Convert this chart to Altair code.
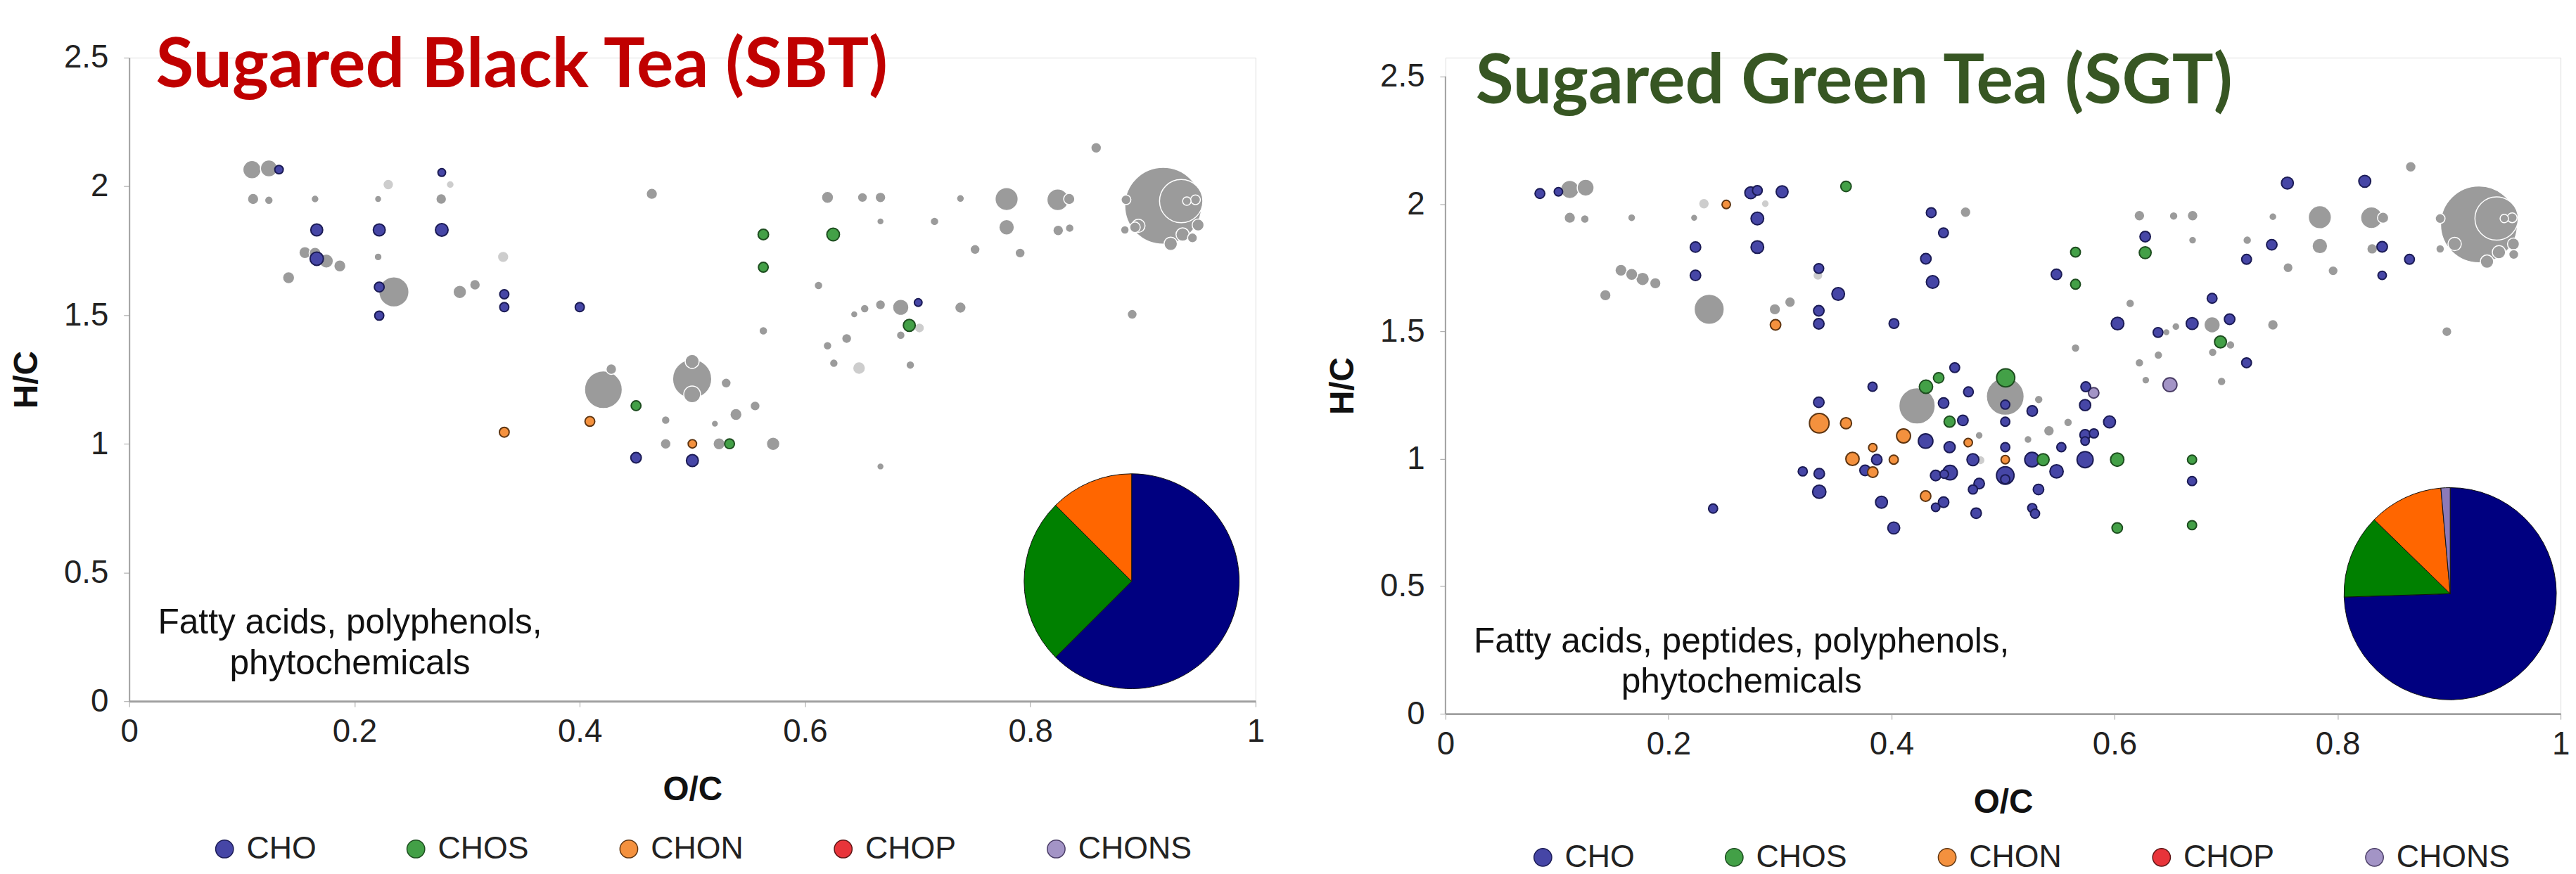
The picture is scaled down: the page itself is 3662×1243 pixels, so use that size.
import altair as alt
import pandas as pd

CLASSES = ["CHO", "CHOS", "CHON", "CHOP", "CHONS"]
FILL = ["#4646A6", "#43A047", "#F4913E", "#E8343A", "#A394C6"]
EDGE = ["#1B1B55", "#1D4D1F", "#5E3511", "#5C1515", "#4A3D66"]
PIE_COLORS = ["#000080", "#008000", "#FF6600", "#E8343A", "#8C7AB8"]

# ---------------- Sugared Black Tea (SBT) ----------------
# (O/C, H/C, relative abundance)
SBT_GRAY = [
    (0.109, 2.065, 5.6), (0.124, 2.07, 4.8), (0.110, 1.951, 2.1), (0.124, 1.946, 1.2),
    (0.165, 1.951, 1.0), (0.156, 1.743, 2.4), (0.165, 1.74, 2.4), (0.175, 1.71, 3.3),
    (0.187, 1.691, 2.4), (0.1415, 1.645, 2.4), (0.221, 1.951, 0.83), (0.221, 1.726, 1.0),
    (0.235, 1.590, 15.3), (0.277, 1.951, 1.86), (0.2935, 1.590, 3.0), (0.307, 1.618, 1.86),
    (0.464, 1.971, 2.1), (0.620, 1.957, 2.4), (0.651, 1.957, 1.62), (0.667, 1.957, 1.86),
    (0.667, 1.864, 0.83), (0.612, 1.615, 1.2), (0.563, 1.439, 1.2), (0.653, 1.525, 1.2),
    (0.6437, 1.503, 0.83), (0.667, 1.54, 1.62), (0.637, 1.409, 1.62), (0.620, 1.381, 1.2),
    (0.6256, 1.313, 1.2), (0.421, 1.210, 24.1), (0.428, 1.29, 1.86), (0.4998, 1.252, 25.9),
    (0.4998, 1.320, 3.3), (0.4998, 1.192, 4.8), (0.530, 1.236, 1.62), (0.4763, 1.092, 1.2),
    (0.520, 1.078, 0.83), (0.5387, 1.114, 2.4), (0.5557, 1.147, 1.62), (0.4763, 1.0, 1.86),
    (0.5237, 1.0, 2.4), (0.5717, 1.0, 3.0), (0.667, 0.912, 0.83), (0.8585, 2.150, 1.86),
    (0.738, 1.953, 1.0), (0.779, 1.951, 9.0), (0.8244, 1.948, 7.9), (0.8346, 1.951, 2.1),
    (0.715, 1.864, 1.2), (0.779, 1.841, 4.0), (0.8248, 1.829, 1.86), (0.835, 1.838, 1.2),
    (0.751, 1.755, 1.62), (0.791, 1.741, 1.62), (0.918, 1.925, 100.0), (0.934, 1.943, 31.8),
    (0.885, 1.948, 1.62), (0.939, 1.943, 1.2), (0.9467, 1.948, 1.62), (0.896, 1.847, 3.0),
    (0.893, 1.841, 1.86), (0.884, 1.831, 1.2), (0.9353, 1.813, 3.0), (0.949, 1.85, 2.4),
    (0.9247, 1.777, 3.0), (0.944, 1.80, 1.62), (0.8905, 1.503, 1.62), (0.685, 1.530, 4.4),
    (0.738, 1.529, 2.1), (0.685, 1.422, 1.2), (0.6935, 1.306, 1.2),
]
SBT_LIGHT = [
    (0.230, 2.007, 1.86), (0.285, 2.007, 1.0), (0.332, 1.726, 2.1),
    (0.648, 1.294, 2.7), (0.7016, 1.450, 1.62),
]
SBT_CHO = [
    (0.133, 2.065, 1.2), (0.1665, 1.831, 2.4), (0.1665, 1.719, 3.0), (0.222, 1.831, 2.4),
    (0.222, 1.609, 1.62), (0.222, 1.498, 1.4), (0.2775, 2.054, 1.0), (0.2775, 1.831, 2.7),
    (0.333, 1.581, 1.4), (0.333, 1.531, 1.4), (0.400, 1.531, 1.4), (0.450, 0.946, 1.86),
    (0.500, 0.935, 2.4), (0.7005, 1.549, 1.0),
]
SBT_CHOS = [
    (0.563, 1.813, 1.86), (0.625, 1.813, 2.7), (0.563, 1.686, 1.62),
    (0.450, 1.148, 1.62), (0.533, 1.0, 1.62), (0.6926, 1.46, 2.4),
]
SBT_CHON = [(0.333, 1.045, 1.62), (0.409, 1.087, 1.62), (0.500, 1.0, 1.2)]
SBT_CHOP = []
SBT_CHONS = []
SBT_PIE = [62.5, 25.0, 12.5, 0.0, 0.0]

# ---------------- Sugared Green Tea (SGT) ----------------
SGT_GRAY = [
    (0.1115, 2.057, 5.6), (0.1257, 2.064, 4.8), (0.1115, 1.946, 2.1), (0.125, 1.941, 1.2),
    (0.167, 1.946, 1.0), (0.223, 1.946, 0.83), (0.1574, 1.740, 2.4), (0.167, 1.724, 2.4),
    (0.1768, 1.706, 3.0), (0.1882, 1.689, 2.1), (0.1434, 1.642, 2.1), (0.2365, 1.587, 15.3),
    (0.2954, 1.587, 2.1), (0.309, 1.615, 1.86), (0.4664, 1.968, 1.86), (0.6223, 1.954, 1.86),
    (0.653, 1.953, 1.2), (0.670, 1.954, 1.86), (0.670, 1.858, 1.0), (0.614, 1.610, 1.2),
    (0.6465, 1.497, 0.83), (0.655, 1.519, 1.0), (0.565, 1.435, 1.2), (0.6223, 1.377, 1.2),
    (0.6393, 1.407, 1.2), (0.628, 1.309, 1.0), (0.532, 1.233, 1.2), (0.4229, 1.208, 22.3),
    (0.502, 1.245, 24.1), (0.5583, 1.143, 1.2), (0.5412, 1.110, 1.86), (0.5224, 1.076, 1.0),
    (0.4786, 1.092, 1.0), (0.8656, 2.146, 1.86), (0.742, 1.950, 1.0), (0.7841, 1.948, 9.0),
    (0.8304, 1.946, 7.9), (0.8408, 1.946, 2.1), (0.719, 1.858, 1.2), (0.7841, 1.835, 4.0),
    (0.831, 1.824, 1.86), (0.7556, 1.750, 1.62), (0.796, 1.738, 1.62), (0.9268, 1.920, 100.0),
    (0.9426, 1.943, 31.8), (0.892, 1.943, 1.62), (0.9495, 1.943, 1.2), (0.9566, 1.946, 1.62),
    (0.905, 1.843, 3.0), (0.892, 1.824, 1.2), (0.9447, 1.811, 3.0), (0.9577, 1.843, 2.4),
    (0.934, 1.774, 3.0), (0.958, 1.802, 1.62), (0.6875, 1.526, 4.4), (0.742, 1.526, 1.86),
    (0.704, 1.447, 1.2), (0.688, 1.418, 1.2), (0.696, 1.304, 1.2), (0.898, 1.499, 1.62),
]
SGT_LIGHT = [(0.2318, 2.001, 1.86), (0.2868, 2.001, 1.0), (0.334, 1.72, 1.62), (0.4797, 0.995, 1.4)]
SGT_CHO = [
    (0.0847, 2.041, 1.62), (0.1013, 2.048, 1.2), (0.2738, 2.044, 2.4), (0.2797, 2.053, 1.62),
    (0.3019, 2.048, 2.4), (0.2797, 1.943, 2.7), (0.2242, 1.831, 1.86), (0.2797, 1.831, 2.7),
    (0.2242, 1.720, 1.86), (0.3348, 1.747, 1.62), (0.3348, 1.581, 1.86), (0.3348, 1.530, 1.86),
    (0.3348, 1.222, 1.86), (0.4356, 1.966, 1.62), (0.4466, 1.887, 1.62), (0.4308, 1.785, 1.86),
    (0.4369, 1.694, 2.7), (0.3522, 1.647, 2.7), (0.4022, 1.531, 1.62), (0.5479, 1.724, 1.86),
    (0.6275, 1.872, 1.86), (0.6027, 1.531, 2.7), (0.639, 1.496, 1.62), (0.6696, 1.531, 2.4),
    (0.5742, 1.283, 1.62), (0.4567, 1.358, 1.62), (0.383, 1.283, 1.4), (0.469, 1.263, 1.62),
    (0.502, 1.213, 1.4), (0.4467, 1.219, 1.86), (0.502, 1.146, 1.4), (0.5262, 1.188, 1.86),
    (0.5736, 1.211, 2.1), (0.5955, 1.145, 2.4), (0.5736, 1.094, 1.86), (0.5815, 1.10, 1.4),
    (0.5736, 1.070, 1.2), (0.464, 1.151, 1.86), (0.4306, 1.070, 3.6), (0.4521, 1.046, 2.1),
    (0.502, 1.046, 1.4), (0.5523, 1.046, 1.4), (0.3868, 0.997, 1.86), (0.473, 0.997, 2.4),
    (0.526, 0.997, 3.6), (0.5736, 0.997, 4.4), (0.3763, 0.955, 1.86), (0.4396, 0.935, 1.86),
    (0.4473, 0.94, 1.2), (0.4525, 0.946, 3.6), (0.502, 0.935, 5.2), (0.502, 0.92, 1.4),
    (0.548, 0.951, 3.0), (0.4786, 0.903, 1.86), (0.473, 0.880, 1.4), (0.5318, 0.880, 1.86),
    (0.391, 0.830, 2.4), (0.4467, 0.830, 1.86), (0.4396, 0.810, 1.2), (0.4759, 0.787, 1.86),
    (0.5262, 0.807, 1.4), (0.5287, 0.785, 1.4), (0.402, 0.729, 2.4), (0.3204, 0.951, 1.4),
    (0.3352, 0.942, 1.86), (0.3352, 0.871, 3.0), (0.240, 0.805, 1.4), (0.6695, 0.913, 1.4),
    (0.755, 2.082, 2.4), (0.8244, 2.089, 2.4), (0.741, 1.840, 1.86), (0.840, 1.832, 1.86),
    (0.7184, 1.783, 1.62), (0.8645, 1.783, 1.62), (0.840, 1.720, 1.2), (0.6875, 1.630, 1.62),
    (0.7032, 1.548, 1.86), (0.7184, 1.377, 1.62),
]
SGT_CHOS = [
    (0.3592, 2.069, 1.86), (0.565, 1.811, 1.62), (0.565, 1.685, 1.62), (0.6275, 1.809, 2.4),
    (0.4423, 1.318, 1.86), (0.4309, 1.283, 3.0), (0.5024, 1.318, 5.6), (0.4521, 1.146, 2.1),
    (0.536, 0.997, 2.4), (0.6024, 0.997, 3.0), (0.6024, 0.729, 1.86), (0.6695, 0.997, 1.4),
    (0.6695, 0.74, 1.4), (0.695, 1.459, 2.4),
]
SGT_CHON = [
    (0.2518, 1.998, 1.2), (0.296, 1.526, 1.86), (0.3352, 1.140, 6.5), (0.3592, 1.140, 2.1),
    (0.365, 1.0, 3.0), (0.4108, 1.090, 3.3), (0.4688, 1.064, 1.2), (0.3832, 1.044, 1.2),
    (0.402, 0.997, 1.4), (0.502, 0.997, 1.2), (0.3832, 0.948, 1.86), (0.4306, 0.854, 1.86),
]
SGT_CHOP = []
SGT_CHONS = [(0.6497, 1.291, 3.3), (0.5813, 1.259, 1.86)]
SGT_PIE = [74.5, 12.8, 11.3, 0.0, 1.4]

X_TICKS = [0, 0.2, 0.4, 0.6, 0.8, 1]
Y_TICKS = [0, 0.5, 1, 1.5, 2, 2.5]

LABEL_FONT = "Liberation Sans, Arial, sans-serif"
AXIS_GRAY = "#A0A0A0"

AX_X = alt.Axis(values=X_TICKS, format="~g", grid=False, title="O/C", labelFontSize=46,
                labelFont=LABEL_FONT, labelColor="#222222", labelPadding=14, tickSize=8,
                tickColor=AXIS_GRAY, domainColor=AXIS_GRAY, domainWidth=3, titleFont=LABEL_FONT,
                titleFontSize=48, titleFontWeight="bold", titleColor="#111111", titlePadding=36,
                labelFlush=False)


def y_axis(show_domain):
    return alt.Axis(values=Y_TICKS, format="~g", grid=False, title="H/C", labelFontSize=46,
                    labelFont=LABEL_FONT, labelColor="#222222", labelPadding=22, tickSize=8,
                    tickColor=AXIS_GRAY, domain=show_domain, domainColor=AXIS_GRAY,
                    domainWidth=2, titleFont=LABEL_FONT, titleFontSize=48,
                    titleFontWeight="bold", titleColor="#111111", titlePadding=28,
                    labelFlush=False)


XS = alt.Scale(domain=[0, 1], nice=False, zero=False)
SIZE_SCALE = alt.Scale(type="linear", domain=[0, 100], range=[0, 12100])


def rows(lst, cls):
    return [{"oc": p[0], "hc": p[1], "a": p[2], "cls": cls} for p in lst]


def panel(gray, light, groups, pie, pie_xy, radius, title, title_color, title_xy,
          note, note_xy, w, h, y_top, legend_xy):
    ys = alt.Scale(domain=[0, y_top], nice=False, zero=False)
    ax_y = y_axis(y_top == 2.5)

    def xpos(v):
        return alt.XDatum(v, type="quantitative", scale=XS, axis=AX_X)

    def ypos(v):
        return alt.YDatum(v, type="quantitative", scale=ys, axis=ax_y)

    base_x = alt.X("oc:Q", scale=XS, axis=AX_X)
    base_y = alt.Y("hc:Q", scale=ys, axis=ax_y)
    size = alt.Size("a:Q", scale=SIZE_SCALE, legend=None)
    order = alt.Order("a:Q", sort="descending")

    g = alt.Chart(pd.DataFrame(rows(gray, "bg"))).mark_circle(
        color="#9B9B9B", opacity=1, stroke="white", strokeWidth=1.5
    ).encode(x=base_x, y=base_y, size=size, order=order)
    lg = alt.Chart(pd.DataFrame(rows(light, "bg"))).mark_circle(
        color="#CDCDCD", opacity=1, stroke="white", strokeWidth=1.5
    ).encode(x=base_x, y=base_y, size=size, order=order)

    crow = []
    for cls, lst in zip(CLASSES, groups):
        crow += rows(lst, cls)
    col = alt.Chart(pd.DataFrame(crow)).mark_circle(opacity=1, strokeWidth=2).encode(
        x=base_x, y=base_y, size=size, order=order,
        fill=alt.Fill("cls:N", scale=alt.Scale(domain=CLASSES, range=FILL),
                      legend=alt.Legend(title=None, orient="none", legendX=legend_xy[0],
                                        legendY=legend_xy[1], direction="horizontal",
                                        columns=5, gridAlign="each", columnPadding=120,
                                        symbolType="circle", symbolSize=650,
                                        symbolStrokeColor="#20203a", symbolStrokeWidth=1.5,
                                        symbolOpacity=1, labelFont=LABEL_FONT,
                                        labelFontSize=45, labelOffset=9, labelColor="#222222",
                                        padding=0, labelLimit=0)),
        stroke=alt.Stroke("cls:N", scale=alt.Scale(domain=CLASSES, range=EDGE), legend=None),
    )

    pie_df = pd.DataFrame({"cls": CLASSES, "v": pie, "k": list(range(len(CLASSES)))})
    pie_layer = alt.Chart(pie_df).transform_filter(alt.datum.v > 0).mark_arc(
        outerRadius=radius, stroke="#111111", strokeWidth=1
    ).encode(
        theta=alt.Theta("v:Q", stack=True),
        order=alt.Order("k:Q"),
        color=alt.Color("cls:N", scale=alt.Scale(domain=CLASSES, range=PIE_COLORS), legend=None),
        x=xpos(pie_xy[0]), y=ypos(pie_xy[1]),
    )

    ttl = alt.Chart(pd.DataFrame({"t": [title]})).mark_text(
        align="left", baseline="alphabetic", font="Lato", fontWeight="bold",
        fontSize=99, color=title_color
    ).encode(x=xpos(title_xy[0]), y=ypos(title_xy[1]), text="t:N")

    nt = alt.Chart(pd.DataFrame({"t": [note]})).mark_text(
        align="center", baseline="alphabetic", font=LABEL_FONT, fontSize=50,
        lineBreak="\n", lineHeight=58, color="#111111"
    ).encode(x=xpos(note_xy[0]), y=ypos(note_xy[1]), text="t:N")

    layers = [g, lg, col, pie_layer, ttl, nt]
    if y_top != 2.5:
        # y-axis line drawn only over the 0 - 2.5 range
        axis_line = alt.Chart(pd.DataFrame({"lo": [Y_TICKS[0]], "hi": [Y_TICKS[-1]]})).mark_rule(
            color=AXIS_GRAY, strokeWidth=2
        ).encode(x=xpos(0), y=alt.Y("lo:Q", scale=ys, axis=ax_y), y2="hi:Q")
        layers.insert(0, axis_line)
    return alt.layer(*layers).resolve_scale(color="independent", fill="independent",
                                            stroke="independent").properties(width=w, height=h)


left = panel(SBT_GRAY, SBT_LIGHT, [SBT_CHO, SBT_CHOS, SBT_CHON, SBT_CHOP, SBT_CHONS],
             SBT_PIE, (0.890, 0.466), 154, "Sugared Black Tea (SBT)", "#C00000",
             (0.0236, 2.386), "Fatty acids, polyphenols,\nphytochemicals", (0.196, 0.263),
             1613, 922, 2.5, (114, 1111))
right = panel(SGT_GRAY, SGT_LIGHT, [SGT_CHO, SGT_CHOS, SGT_CHON, SGT_CHOP, SGT_CHONS],
              SGT_PIE, (0.901, 0.471), 152, "Sugared Green Tea (SGT)", "#375623",
              (0.027, 2.396), "Fatty acids, peptides, polyphenols,\nphytochemicals",
              (0.2655, 0.241), 1597, 940, 2.574, (117, 1123))

chart = alt.hconcat(left, right, spacing=87).resolve_scale(
    fill="independent", stroke="independent", color="independent", size="independent"
).resolve_legend(fill="independent").properties(
    padding={"left": 6, "top": 32, "right": 0, "bottom": 0}
).configure_view(stroke=None).configure(background="white")

chart.save("out.html", embed_options={"renderer": "svg", "actions": False})
